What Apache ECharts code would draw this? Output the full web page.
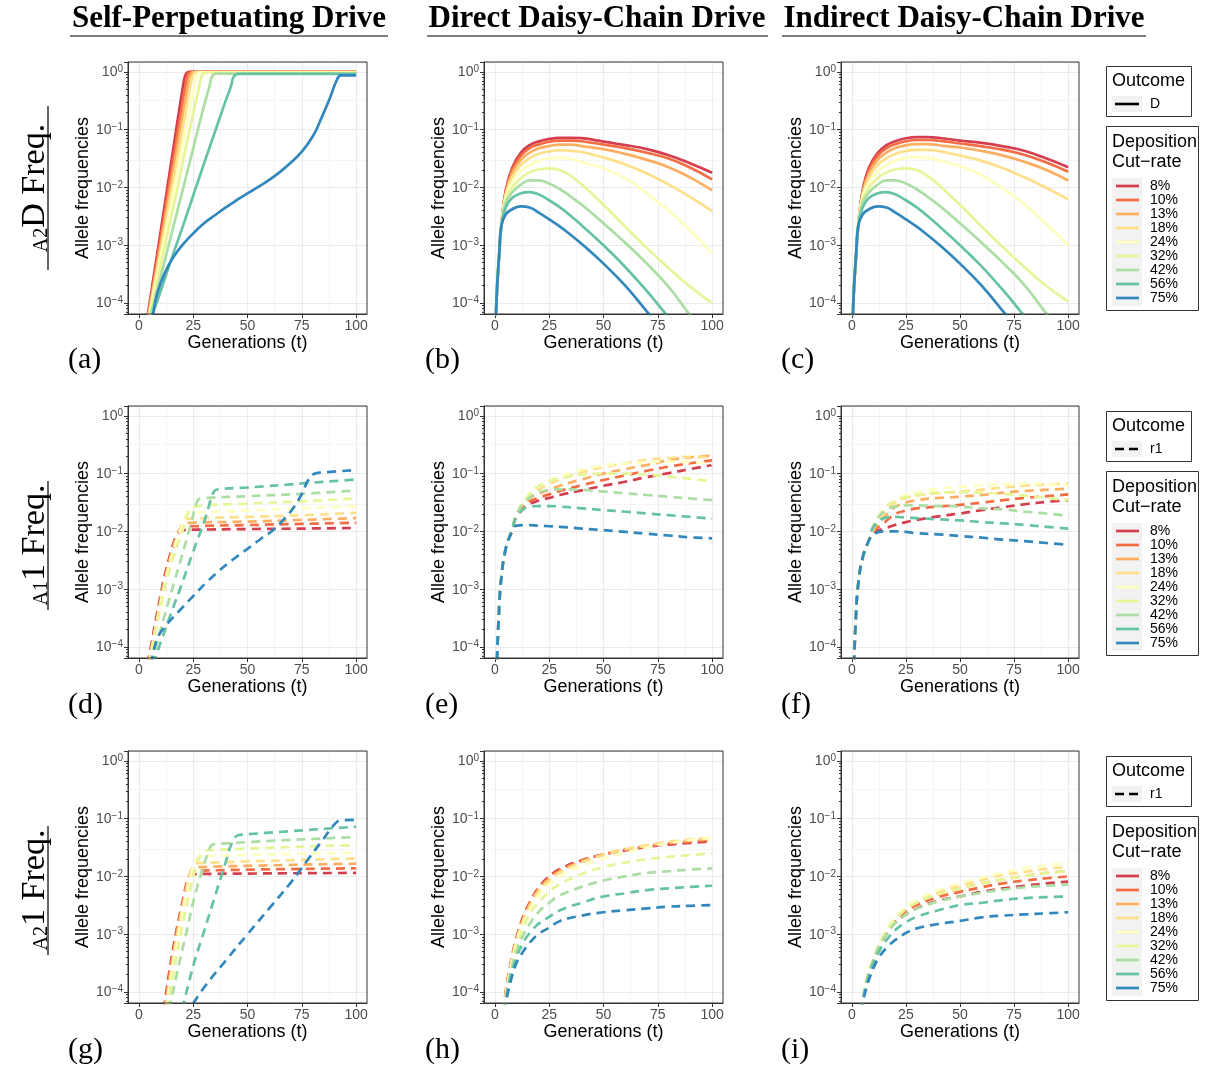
<!DOCTYPE html>
<html><head><meta charset="utf-8">
<script src="https://cdn.jsdelivr.net/npm/echarts@6/dist/echarts.min.js"></script>
<style>html,body{margin:0;padding:0;background:#fff}#c{width:1213px;height:1070px}</style>
</head><body><div id="c"></div>
<script>
// ---------- categories / labels ----------
const rates = ['8%','10%','13%','18%','24%','32%','42%','56%','75%'];
const colors = ['#d53e4f','#f46d43','#fdae61','#fee08b','#ffffbf','#e6f598','#abdda4','#66c2a5','#3288bd'];
const colTitles = ['Self-Perpetuating Drive','Direct Daisy-Chain Drive','Indirect Daisy-Chain Drive'];
const rowLabelSmall = ['A2','A1','A2'];
const rowLabelMain = ['D Freq.','1 Freq.','1 Freq.'];
const outcomeLabels = ['D','r1','r1'];
const panelLetters = [['(a)','(b)','(c)'],['(d)','(e)','(f)'],['(g)','(h)','(i)']];
const xTicks = [0,25,50,75,100];
const xMinor = [12.5,37.5,62.5,87.5];
const yMinor = [3.16e-4,3.16e-3,3.16e-2,0.316];

// ---------- (a) A2D, self-perpetuating : [t, freq] ----------
const selfA2D = [
 [[4.1,6.3e-5],[10,1.7e-3],[15,0.029],[20.5,0.63],[21.5,0.89],[23,1.0],[100,1.0]],
 [[4.3,6.3e-5],[10,1.3e-3],[15,0.019],[21.6,0.63],[22.6,0.89],[24,1.0],[100,1.0]],
 [[4.5,6.3e-5],[10,1.0e-3],[15,0.013],[20,0.16],[22.7,0.62],[23.7,0.88],[25.2,0.99],[100,0.99]],
 [[4.7,6.3e-5],[10,7.9e-4],[15,8.7e-3],[20,0.095],[23.9,0.62],[24.9,0.87],[26.4,0.99],[100,0.99]],
 [[4.9,6.3e-5],[10,6.0e-4],[15,5.5e-3],[20,0.05],[25.7,0.62],[26.7,0.86],[28.2,0.98],[100,0.98]],
 [[5.2,6.3e-5],[10,4.4e-4],[15,3.2e-3],[20,0.025],[25,0.19],[28,0.6],[29,0.85],[30.5,0.97],[100,0.97]],
 [[5.6,6.3e-5],[10,2.8e-4],[15,1.55e-3],[20,8.5e-3],[25,0.047],[30,0.26],[32.6,0.58],[33.6,0.82],[35.5,0.93],[100,0.93]],
 [[6.3,6.3e-5],[10,1.6e-4],[15,5.8e-4],[20,2.0e-3],[25,7.2e-3],[30,0.026],[35,0.091],[40,0.32],[42.5,0.58],[43.5,0.8],[45.5,0.92],[100,0.92]],
 [[6.5,6.3e-5],[8,1.26e-4],[10,2.2e-4],[13,4.0e-4],[16,6.3e-4],[20,1.0e-3],[25,1.6e-3],[30,2.4e-3],[35,3.3e-3],[40,4.5e-3],[45,6.0e-3],[50,7.9e-3],[55,0.0102],[60,0.0135],[65,0.0186],[70,0.0269],[75,0.0417],[80,0.0759],[84,0.158],[88,0.355],[91,0.708],[93,0.87],[100,0.87]]
];

// ---------- (b) A2D, direct daisy-chain ----------
const tDirA2D = [0.5,1,2,3,5,8,12,16,20,25,30,35,40,50,60,70,80,90,100];
const directA2D = [
 [6e-5,1.8e-4,7e-4,2.2e-3,8.9e-3,0.022,0.040,0.054,0.062,0.069,0.072,0.072,0.071,0.062,0.054,0.046,0.036,0.026,0.018],
 [6e-5,1.8e-4,7e-4,2.2e-3,8.3e-3,0.020,0.0355,0.0479,0.055,0.0617,0.0646,0.0646,0.063,0.055,0.0479,0.0398,0.0316,0.0219,0.0138],
 [6e-5,1.8e-4,7e-4,2.2e-3,7.9e-3,0.0178,0.030,0.040,0.047,0.052,0.055,0.055,0.052,0.046,0.038,0.030,0.0224,0.0148,8.9e-3],
 [6e-5,1.8e-4,7e-4,2.2e-3,7.4e-3,0.0151,0.0245,0.032,0.038,0.042,0.044,0.043,0.041,0.033,0.025,0.0174,0.0112,6.8e-3,3.9e-3],
 [6e-5,1.8e-4,7e-4,2.2e-3,6.8e-3,0.0123,0.019,0.0245,0.029,0.0316,0.0324,0.031,0.0275,0.0214,0.0145,7.9e-3,4.0e-3,1.8e-3,7.1e-4],
 [6e-5,1.8e-4,7e-4,2.2e-3,6.0e-3,0.010,0.0145,0.0182,0.0204,0.0214,0.020,0.0158,0.0112,5.0e-3,2.1e-3,8.9e-4,4.0e-4,1.9e-4,1.0e-4],
 [6e-5,1.8e-4,7e-4,2.2e-3,5.4e-3,8.3e-3,0.0112,0.0132,0.0132,0.0117,9.3e-3,6.9e-3,5.0e-3,2.4e-3,1.1e-3,4.8e-4,1.9e-4,6.0e-5,2.0e-5],
 [6e-5,1.8e-4,7e-4,2.2e-3,4.5e-3,6.6e-3,7.9e-3,8.3e-3,7.6e-3,6.0e-3,4.5e-3,3.2e-3,2.2e-3,1.0e-3,4.2e-4,1.6e-4,5.6e-5,2.0e-5,6.3e-6],
 [6e-5,1.8e-4,7e-4,2.2e-3,3.4e-3,4.2e-3,4.7e-3,4.5e-3,3.7e-3,2.8e-3,2.1e-3,1.5e-3,1.05e-3,4.8e-4,2.0e-4,7.1e-5,2.5e-5,7.9e-6,2.5e-6]
];

// ---------- (c) A2D, indirect daisy-chain ----------
const tIndA2D = [0.5,1,2,3,5,8,12,16,20,25,30,35,40,50,60,70,80,90,100];
const indirectA2D = [
 [6e-5,1.8e-4,7e-4,2.2e-3,8.9e-3,0.0224,0.0398,0.0537,0.063,0.0708,0.0741,0.0741,0.0724,0.0646,0.0589,0.0513,0.0427,0.0316,0.0224],
 [6e-5,1.8e-4,7e-4,2.2e-3,8.3e-3,0.020,0.0355,0.0479,0.056,0.063,0.0661,0.0661,0.0646,0.0575,0.0513,0.0447,0.0363,0.0269,0.0186],
 [6e-5,1.8e-4,7e-4,2.2e-3,7.9e-3,0.0178,0.030,0.040,0.0479,0.0537,0.0562,0.0562,0.0537,0.049,0.0427,0.0355,0.0275,0.020,0.0132],
 [6e-5,1.8e-4,7e-4,2.2e-3,7.4e-3,0.0151,0.0245,0.032,0.038,0.0427,0.0447,0.0447,0.0427,0.0355,0.0288,0.0214,0.0148,9.8e-3,6.2e-3],
 [6e-5,1.8e-4,7e-4,2.2e-3,6.8e-3,0.0123,0.019,0.0245,0.029,0.0324,0.0331,0.0324,0.0295,0.0234,0.0162,9.5e-3,5.0e-3,2.3e-3,1.0e-3],
 [6e-5,1.8e-4,7e-4,2.2e-3,6.0e-3,0.010,0.0145,0.0182,0.0204,0.0214,0.020,0.0158,0.0112,5.0e-3,2.1e-3,9.1e-4,4.1e-4,1.95e-4,1.07e-4],
 [6e-5,1.8e-4,7e-4,2.2e-3,5.4e-3,8.3e-3,0.0112,0.0132,0.0132,0.0117,9.3e-3,6.9e-3,5.0e-3,2.4e-3,1.1e-3,4.9e-4,2.0e-4,6.5e-5,2.2e-5],
 [6e-5,1.8e-4,7e-4,2.2e-3,4.5e-3,6.6e-3,7.9e-3,8.3e-3,7.6e-3,6.0e-3,4.5e-3,3.2e-3,2.2e-3,1.0e-3,4.3e-4,1.65e-4,5.8e-5,2.0e-5,6.5e-6],
 [6e-5,1.8e-4,7e-4,2.2e-3,3.4e-3,4.2e-3,4.7e-3,4.5e-3,3.7e-3,2.8e-3,2.1e-3,1.5e-3,1.05e-3,4.8e-4,2.0e-4,7.1e-5,2.5e-5,8e-6,2.5e-6]
];

// ---------- (d) A1 1, self-perpetuating : [t, freq] ----------
const selfA11 = [
 [[4,5e-5],[6,1.26e-4],[8,3.2e-4],[10,7.9e-4],[12,1.8e-3],[14,3.5e-3],[16,6.3e-3],[18,9.3e-3],[20,0.0105],[25,0.0107],[50,0.011],[75,0.0112],[100,0.0115]],
 [[4.2,5e-5],[6,1.12e-4],[8,2.8e-4],[10,7.1e-4],[12,1.6e-3],[14,3.2e-3],[16,5.9e-3],[18,9.5e-3],[20,0.0118],[25,0.0123],[50,0.0129],[75,0.0135],[100,0.0141]],
 [[4.4,5e-5],[6,1.0e-4],[8,2.5e-4],[10,6.3e-4],[12,1.45e-3],[14,2.9e-3],[16,5.4e-3],[18,8.9e-3],[20.5,0.0135],[23,0.0141],[50,0.0148],[75,0.0158],[100,0.017]],
 [[4.6,5e-5],[6,9.5e-5],[8,2.4e-4],[10,5.9e-4],[12,1.35e-3],[14,2.8e-3],[16,5.1e-3],[18,8.5e-3],[21,0.0158],[23.5,0.0166],[50,0.0178],[75,0.0191],[100,0.0209]],
 [[4.8,5e-5],[6,9.1e-5],[8,2.3e-4],[10,5.6e-4],[12,1.3e-3],[14,2.6e-3],[16,4.8e-3],[18,8.1e-3],[20,0.0129],[22,0.0195],[24.5,0.0209],[50,0.0229],[75,0.0251],[100,0.0275]],
 [[5,5e-5],[7,1.3e-4],[9,3.2e-4],[11,7.1e-4],[13,1.5e-3],[15,2.8e-3],[17,4.8e-3],[19,7.9e-3],[21,0.0129],[23,0.0224],[25.5,0.0269],[50,0.0302],[75,0.0331],[100,0.0372]],
 [[5.5,5e-5],[10,2.0e-4],[15,9.1e-4],[20,4.0e-3],[24,0.0135],[27,0.0339],[29,0.0372],[50,0.0407],[75,0.0447],[100,0.0513]],
 [[6.5,5e-5],[10,1.2e-4],[15,4.0e-4],[20,1.3e-3],[25,4.5e-3],[30,0.0145],[32,0.0257],[34.5,0.049],[36.5,0.0537],[50,0.0575],[75,0.0676],[100,0.0794]],
 [[5.5,5e-5],[8,1.26e-4],[10,1.8e-4],[13,2.5e-4],[18,4.0e-4],[25,7.6e-4],[31,1.3e-3],[37,2.1e-3],[43,3.2e-3],[50,5.0e-3],[56,7.4e-3],[62,0.0107],[67,0.0166],[71,0.0251],[75,0.0447],[78,0.0776],[81,0.1],[85,0.105],[100,0.115]]
];

// ---------- (e) A1 1, direct daisy-chain ----------
const tDirA11 = [1,2,3,5,8,10,15,20,25,30,40,50,60,70,80,90,100];
const directA11 = [
 [6e-5,5e-4,1.6e-3,5e-3,0.011,0.0178,0.0282,0.0339,0.038,0.0427,0.0513,0.0617,0.0724,0.0871,0.102,0.120,0.141],
 [6e-5,5e-4,1.6e-3,5e-3,0.011,0.0186,0.0316,0.038,0.0437,0.0501,0.063,0.0776,0.0933,0.112,0.132,0.151,0.170],
 [6e-5,5e-4,1.6e-3,5e-3,0.011,0.0195,0.0355,0.0447,0.0525,0.0617,0.0794,0.1,0.120,0.141,0.170,0.191,0.204],
 [6e-5,5e-4,1.6e-3,5e-3,0.011,0.020,0.038,0.0525,0.066,0.0794,0.105,0.129,0.151,0.174,0.186,0.195,0.191],
 [6e-5,5e-4,1.6e-3,5e-3,0.011,0.0204,0.0398,0.0589,0.0759,0.0912,0.117,0.138,0.151,0.158,0.162,0.158,0.148],
 [6e-5,5e-4,1.6e-3,5e-3,0.011,0.0204,0.0398,0.0603,0.0741,0.0832,0.0955,0.1,0.1,0.0955,0.0891,0.0813,0.0741],
 [6e-5,5e-4,1.6e-3,5e-3,0.011,0.020,0.0355,0.0468,0.0525,0.0537,0.0525,0.049,0.0457,0.0427,0.0398,0.0372,0.0347],
 [6e-5,5e-4,1.6e-3,5e-3,0.011,0.0178,0.0263,0.0275,0.0275,0.0269,0.0251,0.0234,0.0219,0.0204,0.0191,0.0178,0.0166],
 [6e-5,5e-4,1.6e-3,5e-3,0.010,0.0126,0.0129,0.0126,0.0123,0.012,0.0112,0.0105,9.8e-3,9.1e-3,8.5e-3,7.9e-3,7.6e-3]
];

// ---------- (f) A1 1, indirect daisy-chain ----------
const tIndA11 = [1,2,3,5,8,10,15,20,25,30,40,50,60,70,80,90,100];
const indirectA11 = [
 [5e-5,4e-4,1.26e-3,3.5e-3,7.1e-3,9.5e-3,0.0112,0.0129,0.0145,0.0158,0.0182,0.0204,0.0234,0.0263,0.0295,0.0324,0.0347],
 [5e-5,4e-4,1.26e-3,3.5e-3,7.1e-3,0.01,0.0141,0.020,0.0229,0.0251,0.0269,0.0288,0.0316,0.0347,0.038,0.0407,0.0437],
 [5e-5,4e-4,1.26e-3,3.5e-3,7.1e-3,0.0105,0.0178,0.0263,0.0316,0.0347,0.038,0.0398,0.0427,0.0468,0.0501,0.0525,0.055],
 [5e-5,4e-4,1.26e-3,3.5e-3,7.1e-3,0.0112,0.0214,0.0316,0.038,0.0417,0.0457,0.049,0.0525,0.0575,0.0617,0.0646,0.0676],
 [5e-5,4e-4,1.26e-3,3.5e-3,7.1e-3,0.0117,0.024,0.0355,0.0427,0.0479,0.055,0.0589,0.063,0.066,0.0676,0.066,0.063],
 [5e-5,4e-4,1.26e-3,3.5e-3,7.1e-3,0.0126,0.0251,0.0339,0.0389,0.0427,0.0468,0.0479,0.0468,0.0447,0.0417,0.038,0.0347],
 [5e-5,4e-4,1.26e-3,3.5e-3,7.1e-3,0.0126,0.0224,0.0269,0.0282,0.0282,0.0275,0.0269,0.0251,0.024,0.0219,0.0204,0.0186],
 [5e-5,4e-4,1.26e-3,3.5e-3,7.1e-3,0.0117,0.017,0.0178,0.0174,0.017,0.0162,0.0155,0.0145,0.0138,0.0129,0.012,0.0112],
 [5e-5,4e-4,1.26e-3,3.5e-3,7.1e-3,8.9e-3,0.01,0.01,9.8e-3,9.3e-3,8.9e-3,8.3e-3,7.8e-3,7.2e-3,6.8e-3,6.3e-3,5.9e-3]
];

// ---------- (g) A2 1, self-perpetuating : [t, freq] ----------
const selfA21 = [
 [[11.5,5e-5],[14,2.2e-4],[17,1.0e-3],[20,3.5e-3],[22.5,8.9e-3],[24,0.0107],[26,0.011],[100,0.0115]],
 [[11.8,5e-5],[14.5,2.5e-4],[17.5,1.12e-3],[20.5,4.0e-3],[23,0.01],[24.5,0.012],[26.5,0.0126],[100,0.0138]],
 [[12,5e-5],[15,2.8e-4],[18,1.26e-3],[21,4.5e-3],[23.5,0.0112],[25,0.0138],[27,0.0145],[100,0.0166]],
 [[12.3,5e-5],[15.5,3.2e-4],[18.5,1.4e-3],[21.5,5.0e-3],[24,0.0126],[25.5,0.0162],[27.5,0.017],[100,0.0204]],
 [[12.6,5e-5],[16,3.2e-4],[19,1.4e-3],[22,5.0e-3],[25,0.0141],[27,0.0209],[29,0.0224],[100,0.0257]],
 [[13,5e-5],[16.5,2.8e-4],[20,1.4e-3],[23.5,5.6e-3],[26.5,0.0158],[29,0.0251],[31,0.0282],[100,0.0347]],
 [[14,5e-5],[18,2.5e-4],[22,1.12e-3],[26,5.0e-3],[30,0.0158],[33,0.0331],[35,0.0363],[100,0.0479]],
 [[20,5e-5],[25,2.8e-4],[30,1.12e-3],[35,4.5e-3],[40,0.0178],[43,0.0398],[45,0.0501],[47,0.0525],[100,0.0724]],
 [[25,6.3e-5],[30,1.2e-4],[40,3.5e-4],[50,1.0e-3],[60,2.8e-3],[70,7.9e-3],[78,0.02],[85,0.0447],[90,0.0794],[93,0.0933],[100,0.0955]]
];

// ---------- (h) A2 1, direct daisy-chain ----------
const tDirA21 = [3,5,7,10,13,16,20,25,30,40,50,60,70,80,90,100];
const directA21 = [
 [2.5e-5,1.0e-4,2.8e-4,8.9e-4,2.0e-3,3.5e-3,6.3e-3,0.01,0.0135,0.019,0.024,0.0282,0.0324,0.0355,0.038,0.0407],
 [2.5e-5,9.5e-5,2.7e-4,8.5e-4,1.9e-3,3.4e-3,6.0e-3,9.5e-3,0.0129,0.0186,0.024,0.0288,0.0331,0.0372,0.0398,0.0427],
 [2.5e-5,9.1e-5,2.6e-4,8.1e-4,1.8e-3,3.2e-3,5.8e-3,9.1e-3,0.0123,0.0182,0.024,0.0295,0.0339,0.038,0.0417,0.0447],
 [2.5e-5,8.7e-5,2.5e-4,7.8e-4,1.7e-3,3.0e-3,5.4e-3,8.5e-3,0.0117,0.0174,0.0234,0.0295,0.0347,0.0398,0.0437,0.0468],
 [2.5e-5,8.3e-5,2.3e-4,7.1e-4,1.5e-3,2.6e-3,4.6e-3,7.2e-3,0.01,0.0151,0.0204,0.0257,0.0316,0.0372,0.0427,0.0468],
 [2.5e-5,7.9e-5,2.1e-4,6.0e-4,1.26e-3,2.2e-3,3.5e-3,5.4e-3,7.4e-3,0.011,0.0145,0.0174,0.020,0.0219,0.0234,0.0251],
 [2.5e-5,7.6e-5,1.9e-4,5.0e-4,9.5e-4,1.5e-3,2.4e-3,3.5e-3,4.7e-3,6.6e-3,8.5e-3,0.01,0.0115,0.0123,0.0132,0.0138],
 [2.5e-5,7.1e-5,1.7e-4,4.0e-4,7.1e-4,1.05e-3,1.5e-3,2.0e-3,2.6e-3,3.5e-3,4.5e-3,5.1e-3,5.8e-3,6.2e-3,6.6e-3,6.9e-3],
 [2.5e-5,6.3e-5,1.4e-4,3.2e-4,5.0e-4,7.1e-4,1.0e-3,1.3e-3,1.7e-3,2.1e-3,2.4e-3,2.6e-3,2.8e-3,3.0e-3,3.1e-3,3.2e-3]
];

// ---------- (i) A2 1, indirect daisy-chain ----------
const tIndA21 = [3,5,7,10,13,16,20,25,30,40,50,60,70,80,90,100];
const indirectA21 = [
 [2.5e-5,7.1e-5,1.6e-4,3.5e-4,6.3e-4,1.0e-3,1.6e-3,2.2e-3,2.8e-3,3.8e-3,4.5e-3,5.4e-3,6.2e-3,6.9e-3,7.6e-3,8.1e-3],
 [2.5e-5,7.1e-5,1.6e-4,3.7e-4,6.6e-4,1.07e-3,1.7e-3,2.5e-3,3.2e-3,4.4e-3,5.4e-3,6.5e-3,7.6e-3,8.5e-3,9.3e-3,0.01],
 [2.5e-5,7.1e-5,1.7e-4,3.8e-4,6.9e-4,1.1e-3,1.8e-3,2.7e-3,3.5e-3,4.9e-3,6.2e-3,7.6e-3,8.9e-3,0.0102,0.0115,0.0123],
 [2.5e-5,7.1e-5,1.7e-4,3.9e-4,7.1e-4,1.17e-3,1.9e-3,2.8e-3,3.7e-3,5.4e-3,6.9e-3,8.7e-3,0.0105,0.012,0.0135,0.0145],
 [2.5e-5,7.1e-5,1.7e-4,3.9e-4,7.2e-4,1.2e-3,1.95e-3,3.0e-3,3.9e-3,5.8e-3,7.6e-3,9.5e-3,0.0117,0.0138,0.0155,0.017],
 [2.5e-5,7.1e-5,1.7e-4,3.9e-4,7.1e-4,1.15e-3,1.8e-3,2.7e-3,3.5e-3,4.9e-3,6.2e-3,7.6e-3,8.9e-3,0.0102,0.0115,0.0123],
 [2.5e-5,6.9e-5,1.6e-4,3.6e-4,6.5e-4,1.0e-3,1.55e-3,2.2e-3,2.75e-3,3.7e-3,4.5e-3,5.2e-3,5.9e-3,6.5e-3,6.9e-3,7.2e-3],
 [2.5e-5,6.8e-5,1.5e-4,3.2e-4,5.4e-4,7.9e-4,1.17e-3,1.6e-3,2.0e-3,2.6e-3,3.2e-3,3.5e-3,3.9e-3,4.2e-3,4.4e-3,4.5e-3],
 [2.5e-5,6.3e-5,1.26e-4,2.6e-4,4.2e-4,5.8e-4,7.9e-4,1.05e-3,1.26e-3,1.5e-3,1.7e-3,1.95e-3,2.1e-3,2.2e-3,2.3e-3,2.4e-3]
];

// ---------- layout ----------
const SANS = '"Liberation Sans", Arial, Helvetica, sans-serif';
const SERIF = '"Liberation Serif", "Times New Roman", serif';
const colLeft = [128, 484, 841];
const colWidth = [239, 239, 238];
const rowTop = [62, 406, 751];
const plotH = 252;
const rowStep = 345;

const panelDefs = [
  [{pairs: selfA2D}, {t: tDirA2D, v: directA2D}, {t: tIndA2D, v: indirectA2D}],
  [{pairs: selfA11}, {t: tDirA11, v: directA11}, {t: tIndA11, v: indirectA11}],
  [{pairs: selfA21}, {t: tDirA21, v: directA21}, {t: tIndA21, v: indirectA21}]
];

const grids = [], xAxes = [], yAxes = [], series = [];
let p = 0;
for (let r = 0; r < 3; r++) {
  for (let c = 0; c < 3; c++) {
    grids.push({left: colLeft[c], top: rowTop[r], width: colWidth[c], height: plotH,
      show: true, borderColor: '#333333', borderWidth: 1, backgroundColor: 'rgba(0,0,0,0)', z: 6});
    xAxes.push({gridIndex: p, type: 'value', min: -5, max: 105,
      name: 'Generations (t)', nameLocation: 'middle', nameGap: 20,
      nameTextStyle: {fontSize: 18, color: '#000', fontFamily: SANS},
      axisLine: {show: true, onZero: false, lineStyle: {color: '#333333', width: 1}},
      axisTick: {show: true, customValues: xTicks, length: 4, lineStyle: {color: '#333333'}},
      axisLabel: {customValues: xTicks, color: '#4d4d4d', fontSize: 14, fontFamily: SANS, margin: 5},
      splitLine: {show: true, lineStyle: {color: '#ebebeb', width: 1.1}}
    });
    yAxes.push({gridIndex: p, type: 'log', logBase: 10, min: Math.pow(10, -4.19), max: Math.pow(10, 0.17),
      name: 'Allele frequencies', nameLocation: 'middle', nameGap: 36,
      nameTextStyle: {fontSize: 18, color: '#000', fontFamily: SANS},
      axisLine: {show: true, onZero: false, lineStyle: {color: '#333333', width: 1}},
      axisTick: {show: true, length: 4, lineStyle: {color: '#333333'}},
      minorTick: {show: true, splitNumber: 9, length: 2, lineStyle: {color: '#333333'}},
      axisLabel: {
        margin: 5,
        formatter: function (v) {
          const e = Math.log10(v), k = Math.round(e);
          if (Math.abs(e - k) > 1e-6) return '';
          return '{b|10}{e|' + (k < 0 ? '\u2212' : '') + Math.abs(k) + '}';
        },
        rich: {
          b: {fontSize: 14, color: '#4d4d4d', fontFamily: SANS, lineHeight: 15, verticalAlign: 'bottom'},
          e: {fontSize: 10, color: '#4d4d4d', fontFamily: SANS, lineHeight: 11, verticalAlign: 'top'}
        }
      },
      splitLine: {show: true, lineStyle: {color: '#ebebeb', width: 1.1}}
    });
    // minor grid lines (half-decades, half-steps), kept under the data lines
    series.push({type: 'line', xAxisIndex: p, yAxisIndex: p, data: [], silent: true, z: 1,
      markLine: {silent: true, z: 1, symbol: ['none', 'none'], animation: false, label: {show: false},
        lineStyle: {color: '#f3f3f3', width: 0.8, type: 'solid'},
        data: yMinor.map(v => ({yAxis: v})).concat(xMinor.map(v => ({xAxis: v})))}
    });
    const def = panelDefs[r][c];
    for (let i = 0; i < rates.length; i++) {
      const data = def.pairs ? def.pairs[i] : def.t.map((t, j) => [t, def.v[i][j]]);
      series.push({type: 'line', name: rates[i], xAxisIndex: p, yAxisIndex: p, data: data,
        showSymbol: false, symbol: 'none', smooth: 0.45, clip: true, z: 3,
        animation: false, silent: true,
        lineStyle: {color: colors[i], width: 2.7, type: r === 0 ? 'solid' : [9, 6], cap: 'butt', join: 'round'},
        itemStyle: {color: colors[i]}
      });
    }
    p++;
  }
}

// ---------- decorations: titles, row labels, panel letters, legends ----------
const graphic = [];
const titleCx = [229, 597, 964];
const titleUl = [[70, 388], [427, 768], [782, 1146]];
for (let c = 0; c < 3; c++) {
  graphic.push({type: 'text', x: titleCx[c], y: 19, style: {text: colTitles[c], font: 'bold 31px ' + SERIF,
    fill: '#000', align: 'center', verticalAlign: 'middle'}});
  graphic.push({type: 'line', shape: {x1: titleUl[c][0], y1: 36, x2: titleUl[c][1], y2: 36},
    style: {stroke: '#000', lineWidth: 1.2}});
}
const rowCy = [188, 545, 890];
const rowUl = [[106, 270], [481, 610], [826, 955]];
const letterX = [68, 425, 781];
for (let r = 0; r < 3; r++) {
  graphic.push({type: 'text', x: 35, y: rowCy[r], rotation: Math.PI / 2,
    style: {text: '{s|' + rowLabelSmall[r] + '}{n|' + rowLabelMain[r] + '}', align: 'center', verticalAlign: 'middle',
      rich: {s: {font: '20px ' + SERIF, fill: '#000', verticalAlign: 'bottom'},
             n: {font: '34px ' + SERIF, fill: '#000', verticalAlign: 'bottom'}}}});
  graphic.push({type: 'line', shape: {x1: 48, y1: rowUl[r][0], x2: 48, y2: rowUl[r][1]},
    style: {stroke: '#000', lineWidth: 1.2}});
  for (let c = 0; c < 3; c++) {
    graphic.push({type: 'text', x: letterX[c], y: 360 + r * rowStep, style: {text: panelLetters[r][c],
      font: '30px ' + SERIF, fill: '#000', align: 'left', verticalAlign: 'middle'}});
  }
  const off = r * rowStep;
  // Outcome legend
  graphic.push({type: 'rect', shape: {x: 1106.5, y: 66.5 + off, width: 85, height: 50},
    style: {fill: '#fff', stroke: '#333', lineWidth: 1}});
  graphic.push({type: 'text', x: 1112, y: 81 + off, style: {text: 'Outcome', font: '18px ' + SANS, fill: '#000', verticalAlign: 'middle'}});
  graphic.push({type: 'rect', shape: {x: 1112, y: 96 + off, width: 30, height: 16}, style: {fill: '#f2f2f2'}});
  graphic.push({type: 'line', shape: {x1: 1115, y1: 104 + off, x2: 1139, y2: 104 + off},
    style: {stroke: '#000', lineWidth: 2.6, lineDash: r === 0 ? null : [9, 5]}});
  graphic.push({type: 'text', x: 1150, y: 104 + off, style: {text: outcomeLabels[r], font: '14px ' + SANS, fill: '#000', verticalAlign: 'middle'}});
  // Cut-rate legend
  graphic.push({type: 'rect', shape: {x: 1106.5, y: 126.5 + off, width: 92, height: 184},
    style: {fill: '#fff', stroke: '#333', lineWidth: 1}});
  graphic.push({type: 'text', x: 1112, y: 142 + off, style: {text: 'Deposition', font: '18px ' + SANS, fill: '#000', verticalAlign: 'middle'}});
  graphic.push({type: 'text', x: 1112, y: 162 + off, style: {text: 'Cut\u2212rate', font: '18px ' + SANS, fill: '#000', verticalAlign: 'middle'}});
  graphic.push({type: 'rect', shape: {x: 1112, y: 178 + off, width: 30, height: 128}, style: {fill: '#f2f2f2'}});
  for (let i = 0; i < rates.length; i++) {
    const y = 186 + off + i * 14;
    graphic.push({type: 'line', shape: {x1: 1116, y1: y, x2: 1139, y2: y}, style: {stroke: colors[i], lineWidth: 2.7}});
    graphic.push({type: 'text', x: 1150, y: y, style: {text: rates[i], font: '14px ' + SANS, fill: '#000', verticalAlign: 'middle'}});
  }
}

const chart = echarts.init(document.getElementById('c'), null, {renderer: 'canvas'});
chart.setOption({
  animation: false,
  backgroundColor: '#fff',
  textStyle: {fontFamily: SANS},
  grid: grids, xAxis: xAxes, yAxis: yAxes, series: series, graphic: graphic
});
</script></body></html>
